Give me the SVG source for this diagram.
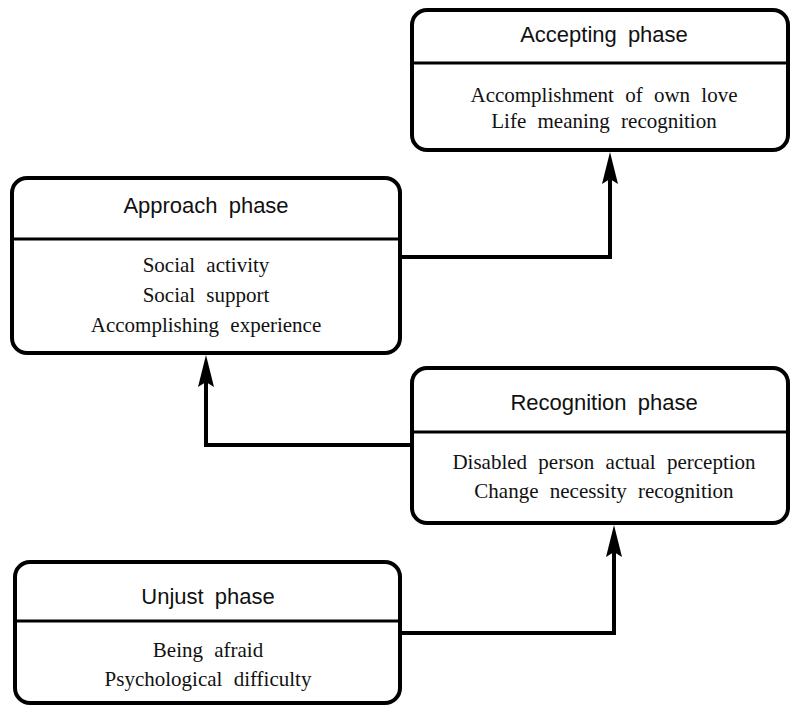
<svg xmlns="http://www.w3.org/2000/svg" width="791" height="707" viewBox="0 0 791 707">
  <style>
    .box { fill: #fff; stroke: #000; stroke-width: 4; }
    .div { stroke: #000; stroke-width: 3.2; }
    .title { font-family: "Liberation Sans", Arial, sans-serif; font-size: 22px; word-spacing: 5px; text-anchor: middle; fill: #111; }
    .body { font-family: "Liberation Serif", "Times New Roman", serif; font-size: 21px; word-spacing: 6px; text-anchor: middle; fill: #111; }
    .conn { fill: none; stroke: #000; stroke-width: 4; stroke-linejoin: miter; }
  </style>
  <defs>
    <marker id="arr" viewBox="0 0 32 18" markerWidth="32" markerHeight="18" refX="5" refY="9" orient="auto" markerUnits="userSpaceOnUse">
      <path d="M32,9 L0,1 L5,9 L0,17 Z" fill="#000"/>
    </marker>
  </defs>
  <rect width="791" height="707" fill="#fff"/>

  <g id="connectors">
    <path class="conn" d="M400,257 H610 V179" marker-end="url(#arr)"/>
    <path class="conn" d="M412,445 H206 V382" marker-end="url(#arr)"/>
    <path class="conn" d="M400,633 H614 V552" marker-end="url(#arr)"/>
  </g>

  <g id="accepting">
    <rect class="box" x="412" y="10" width="376" height="140" rx="15"/>
    <line class="div" x1="412" y1="63" x2="788" y2="63"/>
    <text class="title" x="604" y="42">Accepting phase</text>
    <text class="body" x="604" y="102">Accomplishment of own love</text>
    <text class="body" x="604" y="128">Life meaning recognition</text>
  </g>

  <g id="approach">
    <rect class="box" x="12" y="178" width="388" height="175" rx="15"/>
    <line class="div" x1="12" y1="239" x2="400" y2="239"/>
    <text class="title" x="206" y="213">Approach phase</text>
    <text class="body" x="206" y="272">Social activity</text>
    <text class="body" x="206" y="302">Social support</text>
    <text class="body" x="206" y="332">Accomplishing experience</text>
  </g>

  <g id="recognition">
    <rect class="box" x="412" y="368" width="376" height="155" rx="15"/>
    <line class="div" x1="412" y1="432" x2="788" y2="432"/>
    <text class="title" x="604" y="410">Recognition phase</text>
    <text class="body" x="604" y="469">Disabled person actual perception</text>
    <text class="body" x="604" y="498">Change necessity recognition</text>
  </g>

  <g id="unjust">
    <rect class="box" x="15" y="562" width="385" height="141" rx="15"/>
    <line class="div" x1="15" y1="621" x2="400" y2="621"/>
    <text class="title" x="208" y="604">Unjust phase</text>
    <text class="body" x="208" y="657">Being afraid</text>
    <text class="body" x="208" y="686">Psychological difficulty</text>
  </g>
</svg>
